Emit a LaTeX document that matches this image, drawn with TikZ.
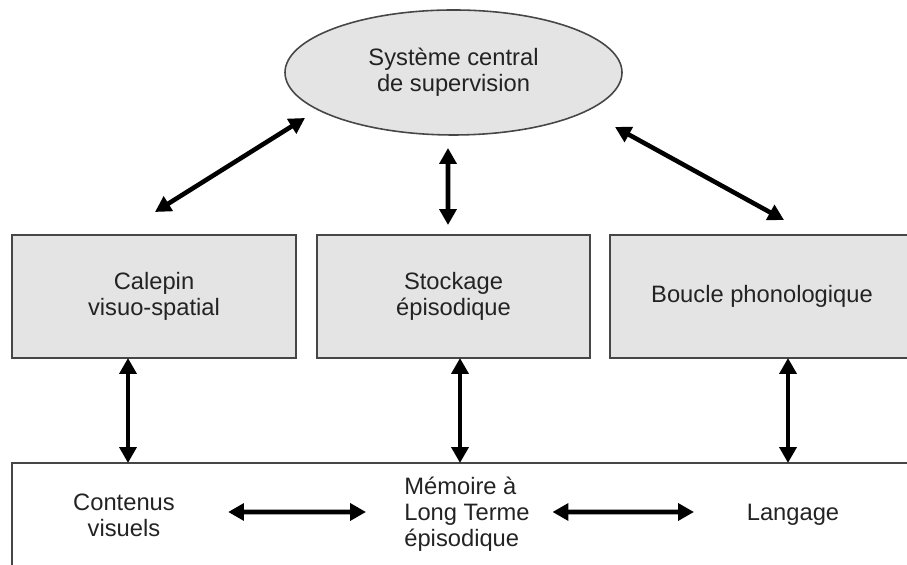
\documentclass[tikz,border=0pt]{standalone}
\usepackage{fontspec}
\setmainfont{Liberation Sans}
\usetikzlibrary{
    positioning,           % Relative positioning
    shapes.geometric,      % Ellipse
    arrows.meta            % Modern arrow tips
}
\definecolor{boxgray}{RGB}{228,228,228}
\definecolor{edgegray}{RGB}{70,70,70}
\definecolor{txtgray}{RGB}{35,35,35}

\begin{document}
\begin{tikzpicture}[
    font=\fontsize{13.5}{14.8}\selectfont,
    text=txtgray,
    module/.style={draw=edgegray, line width=0.9pt, fill=boxgray, minimum height=2.46cm, align=center, inner sep=0pt, outer sep=0pt},
    central/.style={ellipse, draw=edgegray, line width=0.9pt, fill=boxgray, minimum width=6.74cm, minimum height=2.5cm, align=center, inner sep=0pt, outer sep=0pt},
    lbl/.style={inner sep=0pt, align=center},
    biarrow/.style={{Triangle[length=9pt,width=9.5pt]}-{Triangle[length=9pt,width=9.5pt]}, line width=2.6pt}
]
    \useasboundingbox (0,0) rectangle (18.14,11.3);
    \clip (0,0) rectangle (18.14,11.3);

    % central executive and the three stores
    \node[central] (sys) at (9.07,9.85) {Système central\\de supervision};
    \node[module, minimum width=5.68cm] (calepin) at (3.08,5.37) {Calepin\\visuo-spatial};
    \node[module, minimum width=5.46cm, right=0.42cm of calepin] (stockage) {Stockage\\épisodique};
    \node[module, minimum width=6.08cm, right=0.4cm of stockage] (boucle) {Boucle phonologique};

    % long term memory frame
    \node[draw=edgegray, line width=0.9pt, fill=white, minimum width=18.3cm, minimum height=2.4cm, inner sep=0pt, outer sep=0pt, anchor=north west] (ltm) at (0.24,2.04) {};
    \node[lbl] (contenus) at (2.48,0.99) {Contenus\\visuels};
    \node[lbl, align=left, anchor=west] (memoire) at (8.08,1.02) {Mémoire à\\Long Terme\\épisodique};
    \node[lbl] (langage) at (15.86,1.0) {Langage};

    \draw[biarrow] ([shift={(0.02,0.46)}]calepin.north) -- ([shift={(-2.97,-0.91)}]sys.center);
    \draw[biarrow] ([shift={(-0.11,0.2)}]stockage.north) -- ([shift={(-0.11,-0.26)}]sys.south);
    \draw[biarrow] ([shift={(0.44,0.3)}]boucle.north) -- ([shift={(3.23,-1.09)}]sys.center);

    \draw[biarrow] ([xshift=-0.52cm]calepin.south) -- ([xshift=-0.52cm]calepin.south |- ltm.north);
    \draw[biarrow] ([xshift=0.13cm]stockage.south) -- ([xshift=0.13cm]stockage.south |- ltm.north);
    \draw[biarrow] ([xshift=0.52cm]boucle.south) -- ([xshift=0.52cm]boucle.south |- ltm.north);

    \draw[biarrow] ([shift={(1.06,0.07)}]contenus.east) -- ([shift={(-0.76,0.04)}]memoire.west);
    \draw[biarrow] ([shift={(0.45,0.04)}]memoire.east) -- ([shift={(-1.05,0.06)}]langage.west);
\end{tikzpicture}
\end{document}
